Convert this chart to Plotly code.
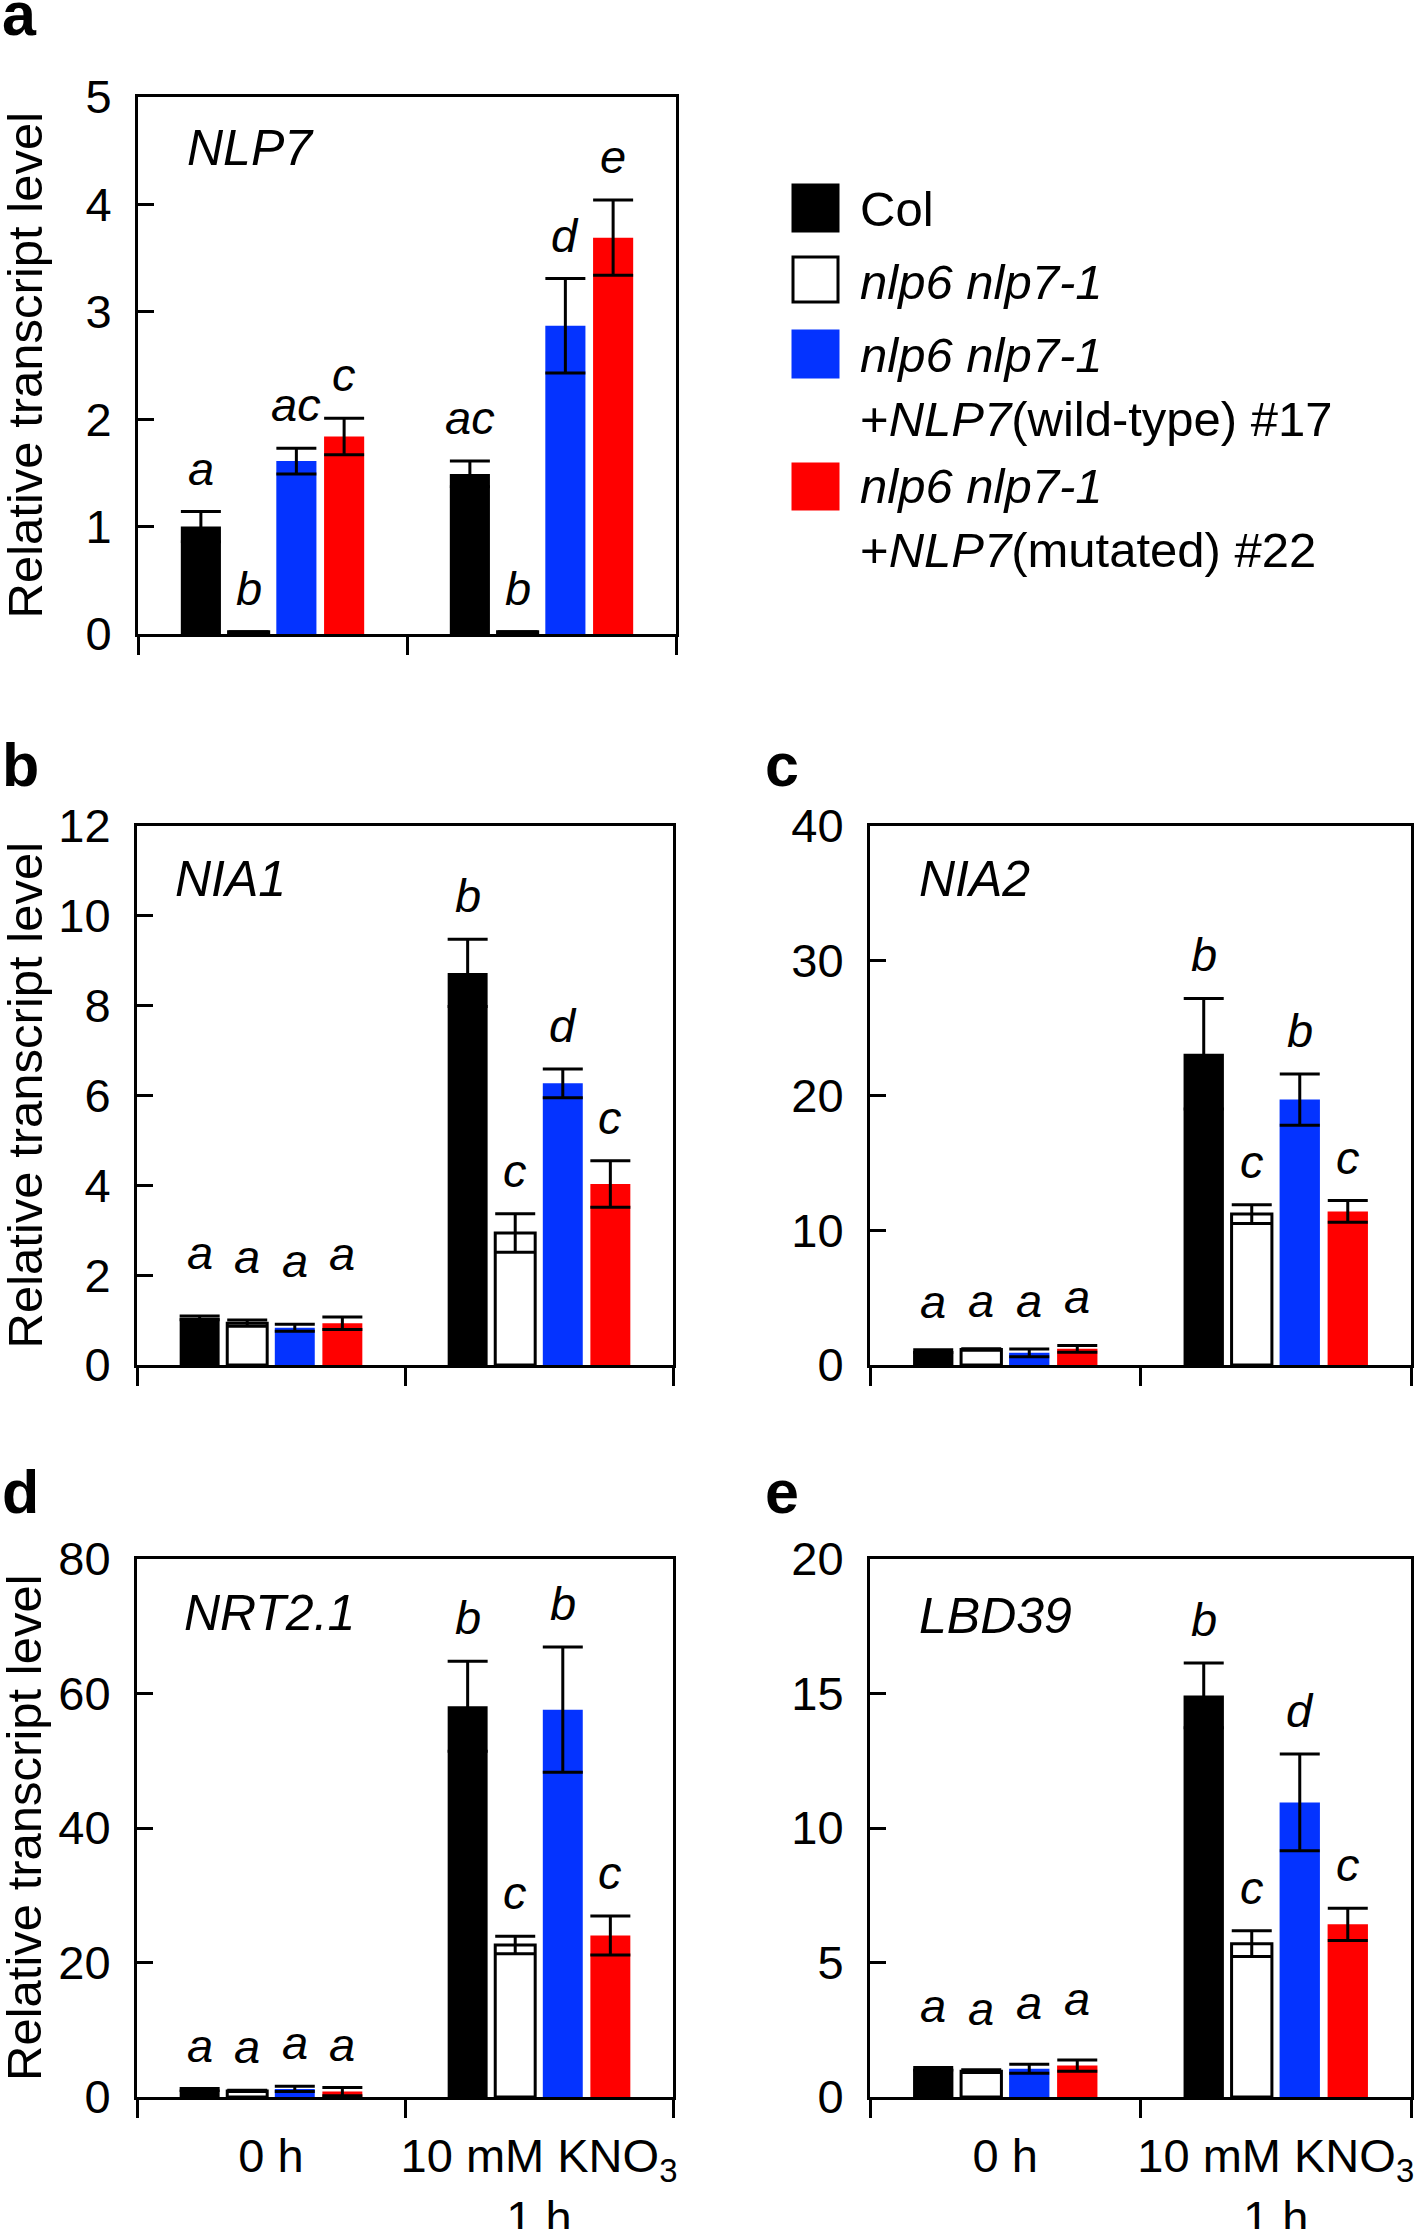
import plotly.graph_objects as go

W, H = 1418, 2229
FONT = "Liberation Sans, Arial, Helvetica, sans-serif"

# ---------------- data ----------------
groups = ["0 h", "10 mM KNO<sub>3</sub><br>1 h"]
genotype_names = ["Col", "nlp6 nlp7-1",
                  "nlp6 nlp7-1 +NLP7(wild-type) #17",
                  "nlp6 nlp7-1 +NLP7(mutated) #22"]
legend_text = ["Col",
               "<i>nlp6 nlp7-1</i>",
               "<i>nlp6 nlp7-1</i><br>+<i>NLP7</i>(wild-type) #17",
               "<i>nlp6 nlp7-1</i><br>+<i>NLP7</i>(mutated) #22"]
colors = ["#000000", "#ffffff", "#0433ff", "#ff0000"]

# panel a: NLP7   (per genotype: [0 h, 10 mM KNO3 1 h])
nlp7_mean = [[1.00, 1.49], [0.02, 0.02], [1.61, 2.87], [1.84, 3.69]]
nlp7_err = [[0.14, 0.12], [0.0, 0.0], [0.12, 0.44], [0.17, 0.35]]
nlp7_letters = [["a", "ac"], ["b", "b"], ["ac", "d"], ["c", "e"]]
nlp7_ticks = [0, 1, 2, 3, 4, 5]

# panel b: NIA1
nia1_mean = [[1.05, 8.73], [0.93, 2.94], [0.83, 6.27], [0.93, 4.03]]
nia1_err = [[0.04, 0.75], [0.07, 0.43], [0.08, 0.32], [0.14, 0.52]]
nia1_letters = [["a", "b"], ["a", "c"], ["a", "d"], ["a", "c"]]
nia1_ticks = [0, 2, 4, 6, 8, 10, 12]

# panel c: NIA2
nia2_mean = [[1.03, 23.1], [1.15, 11.2], [0.90, 19.7], [1.20, 11.4]]
nia2_err = [[0.10, 4.1], [0.05, 0.7], [0.28, 1.9], [0.25, 0.8]]
nia2_letters = [["a", "b"], ["a", "c"], ["a", "b"], ["a", "c"]]
nia2_ticks = [0, 10, 20, 30, 40]

# panel d: NRT2.1
nrt21_mean = [[1.1, 58.1], [0.9, 22.6], [1.2, 57.6], [0.8, 24.0]]
nrt21_err = [[0.15, 6.7], [0.1, 1.3], [0.4, 9.3], [0.6, 2.9]]
nrt21_letters = [["a", "b"], ["a", "c"], ["a", "b"], ["a", "c"]]
nrt21_ticks = [0, 20, 40, 60, 80]

# panel e: LBD39
lbd39_mean = [[1.05, 14.93], [0.96, 5.70], [1.05, 10.95], [1.17, 6.42]]
lbd39_err = [[0.05, 1.2], [0.05, 0.48], [0.17, 1.8], [0.21, 0.6]]
lbd39_letters = [["a", "b"], ["a", "c"], ["a", "d"], ["a", "c"]]
lbd39_ticks = [0, 5, 10, 15, 20]

panel_labels = ["a", "b", "c", "d", "e"]
gene_names = ["NLP7", "NIA1", "NIA2", "NRT2.1", "LBD39"]

# ---------------- layout geometry (pixels) ----------------
boxes = [  # L, R, T, B
    (138, 676, 97, 634),
    (137, 673, 826, 1365),
    (870, 1411, 826, 1365),
    (137, 673, 1559, 2097),
    (870, 1411, 1559, 2097),
]
label_pos = [(0, 50), (0, 801), (763, 801), (0, 1528), (763, 1528)]
gene_pos = [(185, 148), (173, 879), (917, 879), (182, 1613), (917, 1616)]
first_group_lift = [0, 20, 5, 0, 18]   # extra px lift of the 0 h letters

panels = [
    (nlp7_mean, nlp7_err, nlp7_letters, nlp7_ticks),
    (nia1_mean, nia1_err, nia1_letters, nia1_ticks),
    (nia2_mean, nia2_err, nia2_letters, nia2_ticks),
    (nrt21_mean, nrt21_err, nrt21_letters, nrt21_ticks),
    (lbd39_mean, lbd39_err, lbd39_letters, lbd39_ticks),
]

BARGAP = 0.29
BARGROUPGAP = 0.16
slot = (1 - BARGAP) / 4


def px_x(x):
    return x / W


def px_y(y):
    return 1 - y / H


fig = go.Figure()
annotations = []
shapes = []
layout_axes = {}

for p, (means, errs, letters, ticks) in enumerate(panels):
    n = "" if p == 0 else str(p + 1)
    xa, ya = "x" + n, "y" + n
    L, R, T, B = boxes[p]
    for k in range(4):
        fig.add_trace(go.Bar(
            x=groups, y=means[k], name=genotype_names[k], showlegend=False,
            xaxis=xa, yaxis=ya,
            marker=dict(color=colors[k],
                        line=dict(color="black", width=3 if k == 1 else 0)),
            error_y=dict(type="data", array=errs[k], visible=True,
                         color="black", thickness=3, width=20),
        ))
        for g in range(2):
            annotations.append(dict(
                x=g + (k - 1.5) * slot, y=means[k][g] + errs[k][g],
                xref=xa, yref=ya, text="<i>%s</i>" % letters[k][g],
                showarrow=False, yanchor="bottom", xanchor="center",
                yshift=15 + (first_group_lift[p] if g == 0 else 0),
                font=dict(family=FONT, size=47, color="black")))
    layout_axes["xaxis" + n] = dict(
        domain=[px_x(L), px_x(R)], anchor=ya, type="category",
        categoryorder="array", categoryarray=groups, range=[-0.5, 1.5],
        tickson="boundaries", ticks="outside", ticklen=18, tickwidth=3,
        tickcolor="black", showline=True, linewidth=3, linecolor="black",
        mirror=True, showgrid=False, zeroline=False, automargin=False,
        showticklabels=(p >= 3), ticklabelstandoff=16, tickangle=0,
        tickfont=dict(family=FONT, size=47, color="black"))
    layout_axes["yaxis" + n] = dict(
        domain=[px_y(B), px_y(T)], anchor=xa, range=[0, ticks[-1]],
        tickvals=ticks, ticks="inside", ticklen=16, tickwidth=3,
        tickcolor="black", showline=True, linewidth=3, linecolor="black",
        mirror=True, showgrid=False, zeroline=False, ticklabelstandoff=14,
        automargin=False,
        tickfont=dict(family=FONT, size=47, color="black"))
    # panel letter
    lx, ly = label_pos[p]
    annotations.append(dict(x=px_x(lx), y=px_y(ly), xref="paper", yref="paper",
                            text="<b>%s</b>" % panel_labels[p], showarrow=False,
                            xanchor="left", yanchor="bottom",
                            font=dict(family=FONT, size=61, color="black")))
    # gene name
    gx, gy = gene_pos[p]
    annotations.append(dict(x=px_x(gx), y=px_y(gy), xref="paper", yref="paper",
                            text="<i>%s</i>" % gene_names[p], showarrow=False,
                            xanchor="left", yanchor="middle",
                            font=dict(family=FONT, size=50, color="black")))
    # y-axis title on left column
    if L < 400:
        annotations.append(dict(x=px_x(24), y=px_y((T + B) / 2), xref="paper",
                                yref="paper", text="Relative transcript level",
                                textangle=-90, showarrow=False,
                                xanchor="center", yanchor="middle",
                                font=dict(family=FONT, size=49, color="black")))

# ---------------- custom legend ----------------
legend_sq = [(185, 231), (257, 302), (331, 377), (464, 509)]
legend_txt_y = [209, 282, 387, 518]
for k in range(4):
    t, b = legend_sq[k]
    shapes.append(dict(type="rect", xref="paper", yref="paper",
                       x0=px_x(793), x1=px_x(838), y0=px_y(b), y1=px_y(t),
                       fillcolor=colors[k],
                       line=dict(color="black" if k < 2 else colors[k], width=3)))
    annotations.append(dict(x=px_x(858), y=px_y(legend_txt_y[k]), xref="paper",
                            yref="paper", text=legend_text[k], showarrow=False,
                            xanchor="left", yanchor="middle", align="left",
                            font=dict(family=FONT, size=49, color="black")))

fig.update_layout(
    template="none",
    width=W, height=H, margin=dict(l=0, r=0, t=0, b=0, autoexpand=False),
    paper_bgcolor="white", plot_bgcolor="white",
    barmode="group", bargap=BARGAP, bargroupgap=BARGROUPGAP,
    annotations=annotations, shapes=shapes,
    font=dict(family=FONT, color="black"),
    **layout_axes,
)

fig.write_html("out.html",
               config={"displayModeBar": False, "staticPlot": True},
               post_script="document.body.style.margin='0';"
                           "document.body.style.overflow='hidden';")
